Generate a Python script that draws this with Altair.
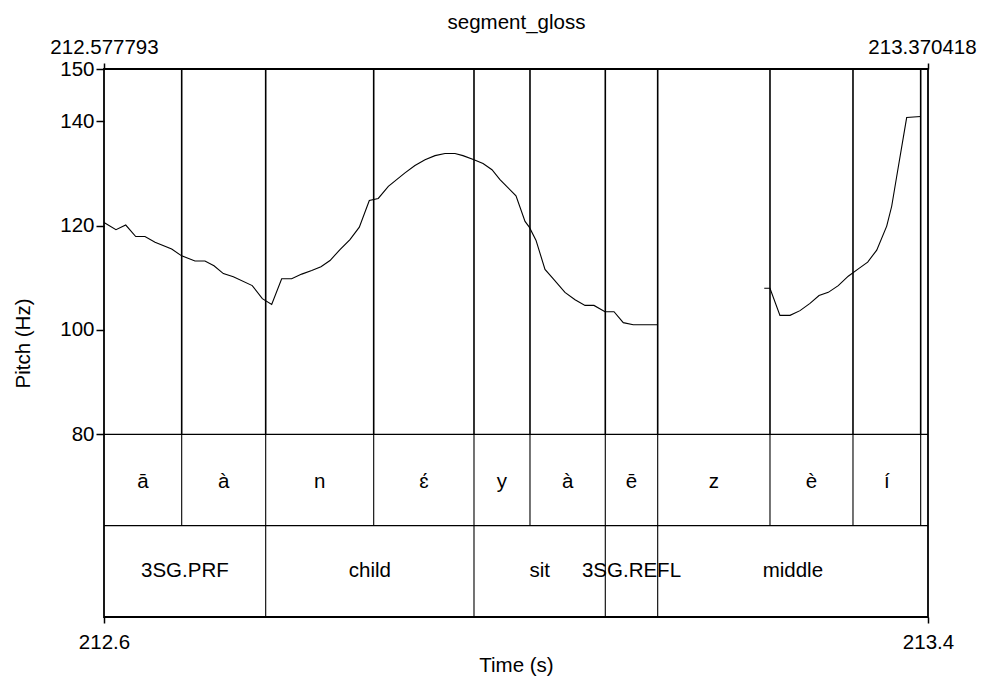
import altair as alt
import pandas as pd

T_START = 212.577793
T_END = 213.370418

# Pitch contour, voiced stretch 1
pitch1_t = [212.5778, 212.5893, 212.5987, 212.6083, 212.6172, 212.6269, 212.6429, 212.6525,
            212.6653, 212.6749, 212.6836, 212.6926, 212.7022, 212.7204, 212.7301, 212.7391,
            212.7487, 212.7583, 212.7680, 212.7776, 212.7865, 212.7952, 212.8048, 212.8144,
            212.8234, 212.8330, 212.8416, 212.8513, 212.8593, 212.8673, 212.8769, 212.8866,
            212.8962, 212.9058, 212.9154, 212.9231, 212.9337, 212.9424, 212.9510, 212.9587,
            212.9741, 212.9828, 212.9869, 212.9933, 213.0020, 213.0100, 213.0212, 213.0309,
            213.0405, 213.0491, 213.0597, 213.0684, 213.0773, 213.0869, 213.0966, 213.1104]
pitch1_hz = [120.6, 119.2, 120.1, 117.9, 117.9, 116.8, 115.5, 114.2,
             113.2, 113.2, 112.3, 110.8, 110.2, 108.5, 106.0, 104.9,
             109.8, 109.8, 110.7, 111.4, 112.1, 113.3, 115.4, 117.3,
             119.7, 124.8, 125.2, 127.5, 128.8, 130.1, 131.5, 132.6,
             133.4, 133.8, 133.8, 133.4, 132.6, 131.9, 130.7, 128.8,
             125.7, 120.8, 119.7, 117.2, 111.6, 109.8, 107.2, 105.8,
             104.7, 104.7, 103.5, 103.5, 101.4, 101.0, 101.0, 101.0]

# Pitch contour, voiced stretch 2
pitch2_t = [213.2129, 213.2184, 213.2280, 213.2377, 213.2473, 213.2569, 213.2656, 213.2745,
            213.2841, 213.2937, 213.3034, 213.3124, 213.3211, 213.3307, 213.3355, 213.3403,
            213.3499, 213.3634]
pitch2_hz = [108.0, 108.0, 102.8, 102.8, 103.7, 105.1, 106.6, 107.2,
             108.5, 110.3, 111.7, 113.0, 115.3, 119.9, 123.7, 129.4,
             140.7, 140.9]

# Phone tier
phone_bounds = [212.65253, 212.73333, 212.83722, 212.93370, 212.98756, 213.06000,
                213.11040, 213.21842, 213.29826, 213.36338]
phone_labels = ["ā", "à", "n", "ɛ́", "y", "à", "ē", "z", "è", "í", ""]

# Word (gloss) tier
word_bounds = [212.73333, 212.93370, 213.06000, 213.11040]
word_labels = ["3SG.PRF", "child", "sit", "3SG.REFL", "middle"]

Y_TICKS = [80, 100, 120, 140, 150]
X_TICKS = [T_START, T_END]

# tier layout (in the pitch-axis units below the 80 Hz floor)
PITCH_FLOOR = 80
TIER_SPLIT = 62.5
TIER_BOTTOM = 45
Y_TOP = 150

FONT = "Liberation Sans"
FS = 20.5

pitch_df = pd.DataFrame({
    "t": pitch1_t + pitch2_t,
    "hz": pitch1_hz + pitch2_hz,
    "run": ["1"] * len(pitch1_t) + ["2"] * len(pitch2_t),
})

p_starts = [T_START] + phone_bounds
p_ends = phone_bounds + [T_END]
phone_df = pd.DataFrame({
    "mid": [(a + b) / 2 for a, b in zip(p_starts, p_ends)],
    "label": phone_labels,
    "hz": [(PITCH_FLOOR + TIER_SPLIT) / 2] * len(phone_labels),
})
w_starts = [T_START] + word_bounds
w_ends = word_bounds + [T_END]
word_df = pd.DataFrame({
    "mid": [(a + b) / 2 for a, b in zip(w_starts, w_ends)],
    "label": word_labels,
    "hz": [(TIER_SPLIT + TIER_BOTTOM) / 2] * len(word_labels),
})

pb_pitch = pd.DataFrame({"t": phone_bounds, "hz": [PITCH_FLOOR] * len(phone_bounds),
                         "hz2": [Y_TOP] * len(phone_bounds)})
pb_tier = pd.DataFrame({"t": phone_bounds, "hz": [TIER_SPLIT] * len(phone_bounds),
                        "hz2": [PITCH_FLOOR] * len(phone_bounds)})
wb_tier = pd.DataFrame({"t": word_bounds, "hz": [TIER_BOTTOM] * len(word_bounds),
                        "hz2": [TIER_SPLIT] * len(word_bounds)})
hl_df = pd.DataFrame({"hz": [PITCH_FLOOR, TIER_SPLIT]})
ax_df = pd.DataFrame({"t": X_TICKS, "hz": [Y_TOP, Y_TOP]})

xscale = alt.Scale(domain=[T_START, T_END], nice=False, zero=False)
yscale = alt.Scale(domain=[TIER_BOTTOM, Y_TOP], nice=False, zero=False)

axis_common = dict(labelFont=FONT, labelFontSize=FS, titleFont=FONT, titleFontSize=FS,
                   titleFontWeight="normal", labelColor="black", titleColor="black",
                   tickColor="black", grid=False, domain=False, labelFlush=False,
                   labelOverlap=False)

yaxis = alt.Axis(values=Y_TICKS, title="Pitch (Hz)", tickSize=8, tickWidth=1.5,
                 labelPadding=2, titlePadding=26, **axis_common)


def Y(field):
    return alt.Y(field, scale=yscale, axis=yaxis, title="Pitch (Hz)")


line = alt.Chart(pitch_df).mark_line(color="black", strokeWidth=1.1).encode(
    x=alt.X("t:Q", scale=xscale,
            axis=alt.Axis(orient="bottom", values=X_TICKS, format=".1f", title="Time (s)",
                          tickSize=6, tickWidth=1.5, labelPadding=9, titlePadding=3,
                          **axis_common)),
    y=Y("hz:Q"),
    detail="run:N",
)

top_axis = alt.Chart(ax_df).mark_point(opacity=0).encode(
    x=alt.X("t:Q", scale=xscale,
            axis=alt.Axis(orient="top", values=X_TICKS, format=".6f", title="segment_gloss",
                          tickSize=6, tickWidth=1.5, labelPadding=6, titlePadding=5,
                          labelOffset={"condition": {"test": f"datum.value > {(T_START + T_END) / 2}",
                                                     "value": -6}, "value": 0},
                          **axis_common)),
    y=Y("hz:Q"),
)

rules_pitch = alt.Chart(pb_pitch).mark_rule(color="black", strokeWidth=1.6).encode(
    x=alt.X("t:Q", scale=xscale, axis=None),
    y=Y("hz:Q"),
    y2="hz2:Q",
)
rules_phone = alt.Chart(pb_tier).mark_rule(color="black", strokeWidth=1.1).encode(
    x=alt.X("t:Q", scale=xscale, axis=None),
    y=Y("hz:Q"),
    y2="hz2:Q",
)
rules_word = alt.Chart(wb_tier).mark_rule(color="black", strokeWidth=1.1).encode(
    x=alt.X("t:Q", scale=xscale, axis=None),
    y=Y("hz:Q"),
    y2="hz2:Q",
)
hlines = alt.Chart(hl_df).mark_rule(color="black", strokeWidth=1.4).encode(
    y=Y("hz:Q"),
)

phone_text = alt.Chart(phone_df).mark_text(font=FONT, fontSize=FS, color="black",
                                           baseline="middle", align="center", dy=2).encode(
    x=alt.X("mid:Q", scale=xscale, axis=None),
    y=Y("hz:Q"),
    text="label:N",
)
word_text = alt.Chart(word_df).mark_text(font=FONT, fontSize=FS, color="black",
                                         baseline="middle", align="center").encode(
    x=alt.X("mid:Q", scale=xscale, axis=None),
    y=Y("hz:Q"),
    text="label:N",
)

chart = alt.layer(
    line, top_axis, rules_pitch, rules_phone, rules_word, hlines, phone_text, word_text
).resolve_axis(x="independent").properties(
    width=824, height=548,
    autosize=alt.AutoSizeParams(type="none"),
    padding={"left": 96, "top": 61, "right": 49, "bottom": 60},
    background="white",
).configure_view(stroke="black", strokeWidth=1.8)

chart.save("out.html", embed_options={"renderer": "svg", "actions": False})
